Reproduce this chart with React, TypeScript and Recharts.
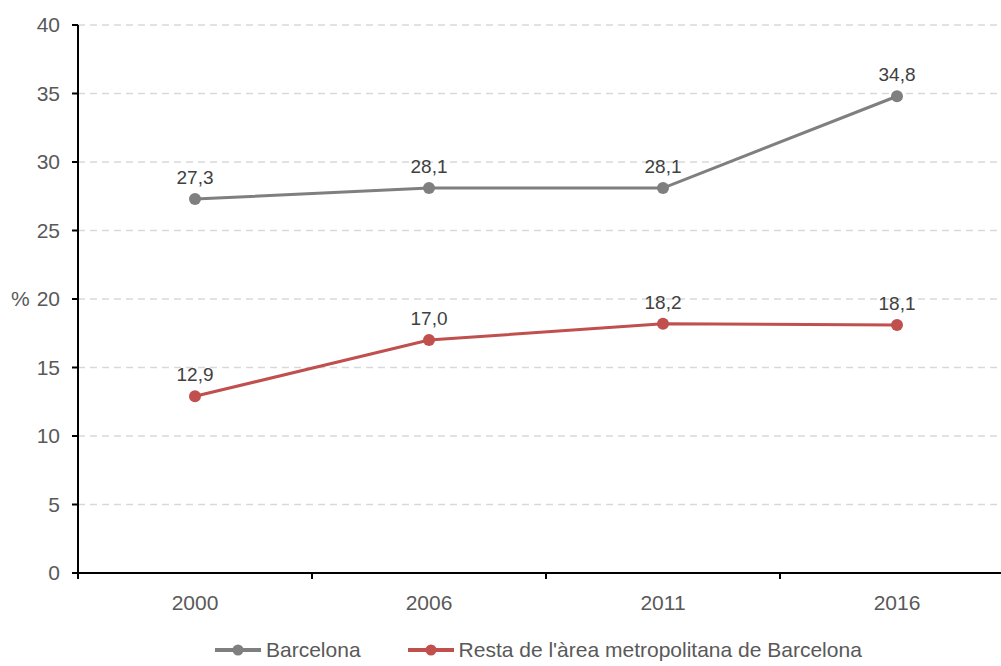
import React from 'react';
import { LineChart, Line, XAxis, YAxis, CartesianGrid, LabelList, Legend } from 'recharts';

const years = ['2000', '2006', '2011', '2016'];
const barcelona = [27.3, 28.1, 28.1, 34.8];
const resta = [12.9, 17.0, 18.2, 18.1];
const yTicks = [0, 5, 10, 15, 20, 25, 30, 35, 40];

const seriesNames = ['Barcelona', "Resta de l'àrea metropolitana de Barcelona"];
const seriesColors = ['#7f7f7f', '#c0504d'];

const data = years.map((y, i) => ({ pos: i + 0.5, year: y, barcelona: barcelona[i], resta: resta[i] }));
const xTicks = Array.from({ length: years.length * 2 + 1 }, (_, i) => i / 2);

const FONT = "Arial, 'Liberation Sans', sans-serif";

const XTick = (props: any) => {
  const { x, y, payload } = props;
  const v = payload.value as number;
  if (Number.isInteger(v)) {
    return <line x1={x} x2={x} y1={y} y2={y + 6} stroke="#000" strokeWidth={2} />;
  }
  return (
    <text x={x} y={y + 37} textAnchor="middle" fontSize={21} fill="#595959" fontFamily={FONT}>
      {years[Math.floor(v)]}
    </text>
  );
};

const fmt = (v: any) => Number(v).toFixed(1).replace('.', ',');

const LegendContent = () => (
  <div style={{ display: 'flex', alignItems: 'center', fontFamily: FONT, fontSize: 21, color: '#595959', whiteSpace: 'nowrap' }}>
    {seriesNames.map((n, i) => (
      <div key={n} style={{ display: 'flex', alignItems: 'center', marginLeft: i === 0 ? 0 : 46 }}>
        <svg width={48} height={24}>
          <line x1={1} x2={47} y1={12} y2={12} stroke={seriesColors[i]} strokeWidth={4} />
          <circle cx={24} cy={12} r={5.5} fill={seriesColors[i]} />
        </svg>
        <span style={{ marginLeft: 4 }}>{n}</span>
      </div>
    ))}
  </div>
);

export default function App() {
  return (
    <div style={{ position: 'absolute', left: 0, top: 0, width: 1001, height: 666, overflow: 'hidden', background: '#fff' }}>
      <LineChart width={1030} height={666} data={data} margin={{ top: 25, right: 16, left: 0, bottom: 33 }}>
        <CartesianGrid vertical={false} stroke="#d9d9d9" strokeDasharray="7 5" strokeWidth={1.5} />
        <XAxis
          dataKey="pos"
          type="number"
          domain={[0, years.length]}
          ticks={xTicks}
          interval={0}
          tick={<XTick />}
          tickLine={false}
          tickSize={0}
          tickMargin={0}
          height={60}
          axisLine={{ stroke: '#000', strokeWidth: 2 }}
        />
        <YAxis
          domain={[0, 40]}
          ticks={yTicks}
          interval={0}
          width={78}
          tickSize={6}
          tickMargin={12}
          tick={{ fontSize: 21, fill: '#595959', fontFamily: FONT }}
          tickLine={{ stroke: '#000', strokeWidth: 2 }}
          axisLine={{ stroke: '#000', strokeWidth: 2 }}
          label={{ value: '%', position: 'insideLeft', offset: 11, fontSize: 21, fill: '#595959', fontFamily: FONT }}
        />
        <Legend
          layout="horizontal"
          verticalAlign="middle"
          align="center"
          content={<LegendContent />}
          wrapperStyle={{ top: 638, left: 214, width: 'auto' }}
        />
        <Line
          dataKey="barcelona"
          name={seriesNames[0]}
          stroke={seriesColors[0]}
          strokeWidth={3}
          dot={{ r: 6, fill: seriesColors[0], stroke: seriesColors[0], strokeWidth: 0 }}
          isAnimationActive={false}
        >
          <LabelList dataKey="barcelona" position="top" offset={15} formatter={fmt} fontSize={19} fill="#404040" fontFamily={FONT} />
        </Line>
        <Line
          dataKey="resta"
          name={seriesNames[1]}
          stroke={seriesColors[1]}
          strokeWidth={3}
          dot={{ r: 6, fill: seriesColors[1], stroke: seriesColors[1], strokeWidth: 0 }}
          isAnimationActive={false}
        >
          <LabelList dataKey="resta" position="top" offset={15} formatter={fmt} fontSize={19} fill="#404040" fontFamily={FONT} />
        </Line>
      </LineChart>
    </div>
  );
}
